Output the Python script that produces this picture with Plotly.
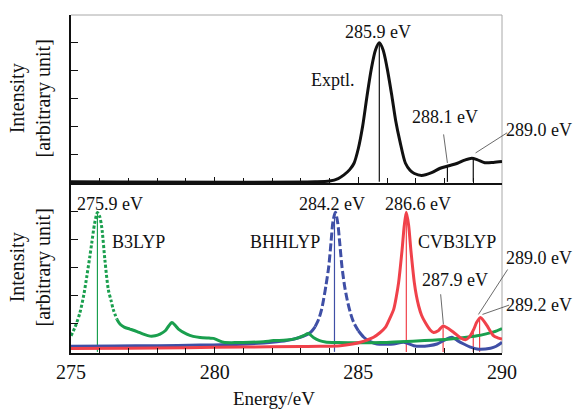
import plotly.graph_objects as go

# ---------------- data ----------------
exp_E = [275, 283.5, 284.0, 284.3, 284.5, 284.7, 284.85, 285.0, 285.15, 285.3, 285.45, 285.6,
         285.73, 285.86, 286.0, 286.17, 286.3, 286.45, 286.64, 286.8, 286.95, 287.2, 287.55,
         287.85, 288.15, 288.45, 288.7, 288.95, 289.15, 289.4, 289.7, 290]
exp_I = [0, 0, 0.03, 0.12, 0.25, 0.44, 0.67, 1.2, 2.0, 3.07, 4.05, 4.75,
         5.0, 4.75, 4.1, 3.07, 2.2, 1.45, 0.67, 0.42, 0.3, 0.23, 0.33,
         0.49, 0.58, 0.67, 0.78, 0.85, 0.79, 0.69, 0.7, 0.73]

# B3LYP (green): dotted peak part and solid tail
b3_peak_E = [275, 275.15, 275.31, 275.45, 275.55, 275.65, 275.72, 275.82, 275.92, 276.0,
             276.07, 276.18, 276.3, 276.4, 276.47, 276.6]
b3_peak_I = [0.57, 0.9, 1.39, 2.05, 2.68, 3.35, 3.85, 4.55, 4.95, 4.8,
             4.43, 3.26, 2.21, 1.8, 1.51, 1.15]
b3_tail_E = [276.6, 276.71, 276.85, 277.05, 277.3, 277.52, 277.75, 277.93, 278.1, 278.28,
             278.4, 278.51, 278.62, 278.74, 279.03, 279.25, 279.49, 279.8, 279.96, 280.15,
             280.31, 280.8, 281.24, 281.7, 282.05, 282.5, 282.85, 283.1, 283.26, 283.45,
             283.65, 283.85, 284.3, 285.0, 285.8, 286.46, 287.3, 288.2, 288.7, 289.13,
             289.45, 289.71, 290]
b3_tail_I = [1.15, 0.98, 0.88, 0.81, 0.72, 0.63, 0.56, 0.57, 0.63, 0.75,
             0.92, 1.04, 0.95, 0.81, 0.63, 0.55, 0.51, 0.49, 0.48, 0.4,
             0.34, 0.33, 0.34, 0.36, 0.4, 0.42, 0.48, 0.58, 0.65, 0.5,
             0.4, 0.35, 0.33, 0.32, 0.33, 0.36, 0.4, 0.46, 0.51, 0.57,
             0.64, 0.71, 0.83]

# BHHLYP (blue): solid lead, dashed peak, solid tail
bh_lead_E = [275, 276.5, 278, 279.5, 280.5, 281.3, 282, 282.5, 282.98, 283.33, 283.5]
bh_lead_I = [0.2, 0.21, 0.22, 0.24, 0.26, 0.29, 0.34, 0.4, 0.52, 0.69, 0.9]
bh_peak_E = [283.5, 283.62, 283.72, 283.79, 283.88, 283.97, 284.05, 284.12, 284.2, 284.28,
             284.35, 284.43, 284.52, 284.61, 284.72, 284.84, 285.0]
bh_peak_I = [0.9, 1.16, 1.5, 1.86, 2.4, 3.03, 3.9, 4.65, 4.96, 4.6,
             3.9, 3.03, 2.35, 1.86, 1.4, 1.04, 0.75]
bh_tail_E = [285.0, 285.19, 285.4, 285.65, 286.0, 286.23, 286.58, 286.93, 287.16, 287.45,
             287.74, 288.0, 288.26, 288.45, 288.67, 288.9, 289.13, 289.6, 289.8, 290]
bh_tail_I = [0.75, 0.52, 0.37, 0.28, 0.27, 0.28, 0.34, 0.22, 0.2, 0.22,
             0.28, 0.42, 0.52, 0.4, 0.28, 0.17, 0.1, 0.13, 0.2, 0.34]

# CVB3LYP (red)
cv_E = [275, 277, 279, 281, 283, 283.68, 284.37, 284.8, 285.07, 285.3, 285.53, 285.75,
        285.94, 286.1, 286.23, 286.32, 286.4, 286.52, 286.6, 286.67, 286.75, 286.83,
        286.95, 287.02, 287.1, 287.2, 287.33, 287.5, 287.62, 287.78, 287.95, 288.1,
        288.32, 288.55, 288.73, 288.88, 289.02, 289.12, 289.25, 289.35, 289.48, 289.71,
        289.85, 290]
cv_I = [0.12, 0.13, 0.15, 0.17, 0.19, 0.2, 0.22, 0.28, 0.34, 0.42, 0.52, 0.68,
        0.87, 1.2, 1.51, 1.95, 2.45, 3.6, 4.5, 4.96, 4.5, 3.6,
        2.45, 2.0, 1.63, 1.3, 1.04, 0.78, 0.69, 0.75, 0.92, 0.85,
        0.69, 0.5, 0.43, 0.55, 0.81, 1.05, 1.22, 1.12, 0.93, 0.57,
        0.5, 0.46]

# stick lines (position, height)
exp_stick_E = [285.73, 288.1, 289.0]
exp_stick_I = [5.0, 0.6, 0.84]
b3_stick_E = [275.92]
b3_stick_I = [4.92]
bh_stick_E = [284.17]
bh_stick_I = [4.96]
cv_stick_E = [286.67, 287.95, 289.0, 289.22]
cv_stick_I = [4.96, 0.92, 0.8, 1.22]

x_ticks = [275, 280, 285, 290]
y_ticks = [1, 2, 3, 4, 5]

BLACK = "#111111"
GREEN = "#1a9f4e"
BLUE = "#3f4fa6"
RED = "#f0414a"
FONT = "Liberation Serif"

fig = go.Figure()


def sticks(E, I, color, xa, ya, width=1.2):
    xs, ys = [], []
    for e, h in zip(E, I):
        xs += [e, e, None]
        ys += [0, h, None]
    fig.add_trace(go.Scatter(x=xs, y=ys, mode="lines", xaxis=xa, yaxis=ya,
                             line=dict(color=color, width=width), showlegend=False,
                             hoverinfo="skip"))


# top panel
sticks(exp_stick_E, exp_stick_I, BLACK, "x2", "y2")
fig.add_trace(go.Scatter(x=exp_E, y=exp_I, mode="lines", xaxis="x2", yaxis="y2",
                         line=dict(color=BLACK, width=3, shape="spline", smoothing=0.8),
                         showlegend=False))

# bottom panel
sticks(b3_stick_E, b3_stick_I, GREEN, "x", "y")
sticks(bh_stick_E, bh_stick_I, BLUE, "x", "y")
sticks(cv_stick_E, cv_stick_I, RED, "x", "y")

fig.add_trace(go.Scatter(x=bh_lead_E, y=bh_lead_I, mode="lines",
                         line=dict(color=BLUE, width=3, shape="spline", smoothing=0.8),
                         showlegend=False))
fig.add_trace(go.Scatter(x=bh_peak_E, y=bh_peak_I, mode="lines",
                         line=dict(color=BLUE, width=3, dash="8px,3px", shape="spline", smoothing=0.8),
                         showlegend=False))
fig.add_trace(go.Scatter(x=bh_tail_E, y=bh_tail_I, mode="lines",
                         line=dict(color=BLUE, width=3, shape="spline", smoothing=0.8),
                         showlegend=False))
fig.add_trace(go.Scatter(x=b3_peak_E, y=b3_peak_I, mode="lines",
                         line=dict(color=GREEN, width=3, dash="3px,2px", shape="spline", smoothing=0.8),
                         showlegend=False))
fig.add_trace(go.Scatter(x=b3_tail_E, y=b3_tail_I, mode="lines",
                         line=dict(color=GREEN, width=3, shape="spline", smoothing=0.8),
                         showlegend=False))
fig.add_trace(go.Scatter(x=cv_E, y=cv_I, mode="lines",
                         line=dict(color=RED, width=3, shape="spline", smoothing=0.8),
                         showlegend=False))

split = 0.503
axis_common = dict(range=[275, 290], showgrid=False, zeroline=False, showline=True,
                   linecolor=BLACK, linewidth=1.5, ticks="inside", tickcolor=BLACK,
                   tickwidth=1, ticklen=6, tickvals=x_ticks,
                   minor=dict(dtick=1, ticks="inside", ticklen=5, tickcolor=BLACK, tickwidth=1))
yaxis_common = dict(range=[-0.04, 6], showgrid=False, zeroline=False, showline=True,
                    linecolor=BLACK, linewidth=1.5, ticks="inside", tickcolor=BLACK,
                    tickwidth=1, ticklen=7, tickvals=y_ticks, showticklabels=False)

fig.update_layout(
    width=575, height=409,
    margin=dict(l=71, r=73, t=15, b=56),
    paper_bgcolor="white", plot_bgcolor="white",
    font=dict(family=FONT, size=18, color=BLACK),
    hovermode=False,
    xaxis=dict(**axis_common, anchor="y", ticklabelstandoff=0,
               tickfont=dict(family=FONT, size=20, color=BLACK)),
    xaxis2=dict(**axis_common, anchor="y2", matches="x", showticklabels=False),
    yaxis=dict(**yaxis_common, domain=[0, split], anchor="x"),
    yaxis2=dict(**yaxis_common, domain=[split, 1], anchor="x2"),
)

# grey frame (top + right edges)
GREY = "#a8a8a8"
fig.add_shape(type="line", xref="x2 domain", yref="y2 domain", x0=0, x1=1, y0=1, y1=1,
              line=dict(color=GREY, width=1), layer="below")
fig.add_shape(type="line", xref="x2 domain", yref="y2 domain", x0=1, x1=1, y0=0, y1=1,
              line=dict(color=GREY, width=1), layer="below")
fig.add_shape(type="line", xref="x domain", yref="y domain", x0=1, x1=1, y0=0, y1=1,
              line=dict(color=GREY, width=1), layer="below")


def label(text, x, y, xa, ya, anchor="center"):
    fig.add_annotation(text=text, x=x, y=y, xref=xa, yref=ya, showarrow=False,
                       xanchor=anchor, yanchor="middle",
                       font=dict(family=FONT, size=18, color=BLACK))


def leader(x0, y0, x1, y1, xa, ya):
    fig.add_annotation(text="", x=x1, y=y1, ax=x0, ay=y0, xref=xa, yref=ya,
                       axref=xa, ayref=ya, showarrow=True, arrowhead=0,
                       arrowwidth=0.8, arrowcolor="#444444", standoff=0, startstandoff=0)


RIGHT_EDGE = 1.166  # paper fraction of the right edge of the picture

# top panel labels
label("285.9 eV", 285.7, 5.4, "x2", "y2")
label("Exptl.", 284.13, 3.67, "x2", "y2")
label("288.1 eV", 288.03, 2.34, "x2", "y2")
label("289.0 eV", RIGHT_EDGE, 1.87, "paper", "y2", "right")
leader(287.96, 1.76, 288.1, 0.68, "x2", "y2")
leader(290.23, 1.8, 289.08, 1.04, "x2", "y2")

# bottom panel labels
label("275.9 eV", 276.36, 5.26, "x", "y")
label("B3LYP", 277.35, 3.89, "x", "y")
label("BHHLYP", 282.44, 3.89, "x", "y")
label("284.2 eV", 284.09, 5.26, "x", "y")
label("286.6 eV", 287.06, 5.26, "x", "y")
label("CVB3LYP", 288.43, 3.89, "x", "y")
label("287.9 eV", 288.38, 2.56, "x", "y")
label("289.0 eV", RIGHT_EDGE, 3.33, "paper", "y", "right")
label("289.2 eV", RIGHT_EDGE, 1.68, "paper", "y", "right")
leader(287.86, 2.1, 287.96, 0.98, "x", "y")
leader(290.23, 2.98, 289.18, 1.33, "x", "y")
leader(290.3, 1.68, 289.32, 1.33, "x", "y")

# axis titles
for ya in ["y2 domain", "y domain"]:
    fig.add_annotation(text="Intensity<br>[arbitrary unit]", x=0, y=0.5, xref="paper", yref=ya,
                       xanchor="right", yanchor="middle", xshift=-14, textangle=-90,
                       showarrow=False, font=dict(family=FONT, size=20, color=BLACK))
fig.add_annotation(text="Energy/eV", x=282.07, y=0, xref="x", yref="paper", yanchor="top",
                   yshift=-33, showarrow=False, font=dict(family=FONT, size=19, color=BLACK))

fig.write_html("out.html", config={"displayModeBar": False},
               post_script="document.body.style.margin='0';document.body.style.overflow='hidden';")
